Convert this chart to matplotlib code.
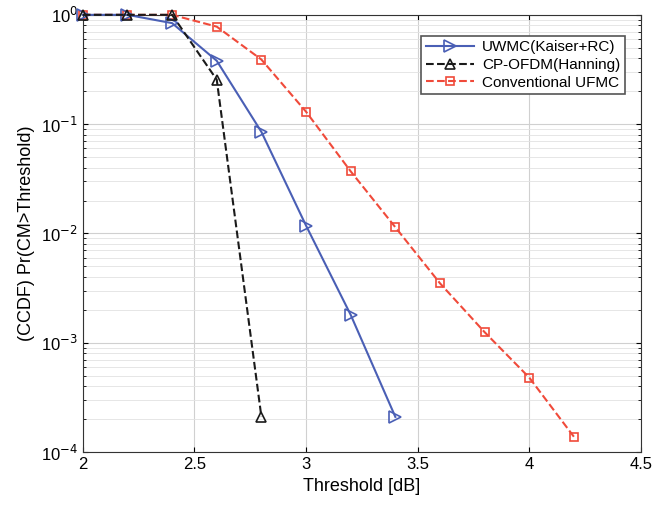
import matplotlib
matplotlib.use('Agg')
import matplotlib.pyplot as plt
import numpy as np

plt.rcParams['font.family'] = ['Liberation Sans', 'DejaVu Sans']

# Dados
x_uwmc = [2.0, 2.2, 2.4, 2.6, 2.8, 3.0, 3.2, 3.4]
y_uwmc = [1.0, 1.0, 0.84, 0.38, 0.085, 0.0118, 0.0018, 0.00021]

x_cp = [2.0, 2.2, 2.4, 2.6, 2.8]
y_cp = [1.0, 1.0, 1.0, 0.255, 0.00021]

x_ufmc = [2.0, 2.2, 2.4, 2.6, 2.8, 3.0, 3.2, 3.4, 3.6, 3.8, 4.0, 4.2]
y_ufmc = [1.0, 1.0, 1.0, 0.78, 0.39, 0.13, 0.037, 0.0114, 0.0035, 0.00125, 0.00048, 0.000138]

labels = ['UWMC(Kaiser+RC)', 'CP-OFDM(Hanning)', 'Conventional UFMC']

fig = plt.figure(figsize=(6.52, 5.12), dpi=100)
ax = fig.add_axes([0.127, 0.117, 0.856, 0.854])

ax.semilogy(x_uwmc, y_uwmc, '-', color='#4a5fb5', marker='>', markersize=8,
            markerfacecolor='none', markeredgewidth=1.2, linewidth=1.5,
            label=labels[0], clip_on=False, zorder=4)
ax.semilogy(x_cp, y_cp, '--', color='#1a1a1a', marker='^', markersize=7,
            markerfacecolor='none', markeredgewidth=1.2, linewidth=1.5,
            label=labels[1], clip_on=False, zorder=4)
ax.semilogy(x_ufmc, y_ufmc, '--', color='#f04a3a', marker='s', markersize=6,
            markerfacecolor='none', markeredgewidth=1.2, linewidth=1.5,
            label=labels[2], clip_on=False, zorder=3)

ax.set_xlim(2, 4.5)
ax.set_ylim(1e-4, 1)
ax.set_xticks([2, 2.5, 3, 3.5, 4, 4.5])
ax.set_xticklabels(['2', '2.5', '3', '3.5', '4', '4.5'])
ax.set_yticks([1e-4, 1e-3, 1e-2, 1e-1, 1])
ax.set_yticklabels([r'10$^{-4}$', r'10$^{-3}$', r'10$^{-2}$', r'10$^{-1}$', r'10$^{0}$'])

ax.grid(True, which='major', color='#d0d0d0', linewidth=0.8)
ax.grid(True, which='minor', axis='y', color='#e2e2e2', linewidth=0.6)
ax.set_axisbelow(True)
ax.tick_params(which='both', direction='in', top=True, right=True, labelsize=12)
for s in ax.spines.values():
    s.set_color('#333333')

ax.set_xlabel('Threshold [dB]', fontsize=13)
ax.set_ylabel('(CCDF) Pr(CM>Threshold)', fontsize=13)

leg = ax.legend(loc='upper right', bbox_to_anchor=(0.985, 0.97), fontsize=11,
                fancybox=False, edgecolor='#555555', framealpha=1,
                handlelength=3.2, borderpad=0.3, labelspacing=0.25, handletextpad=0.5)
leg.get_frame().set_linewidth(1.2)
leg.set_zorder(5)

fig.savefig('out.png', dpi=100)
